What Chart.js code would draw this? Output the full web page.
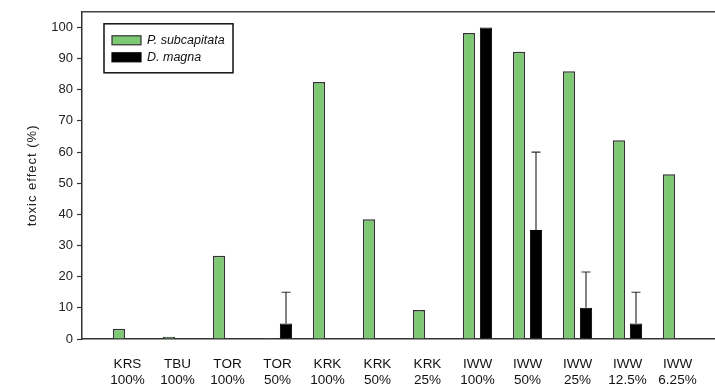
<!DOCTYPE html>
<html>
<head>
<meta charset="utf-8">
<script src="https://cdn.jsdelivr.net/npm/chart.js@4"></script>
<style>
  html, body { margin: 0; padding: 0; background: #fff; }
  #wrap { width: 715px; height: 389px; }
</style>
</head>
<body>
<div id="wrap"><canvas id="chart"></canvas></div>
<script>
const sampleNames = ['KRS', 'TBU', 'TOR', 'TOR', 'KRK', 'KRK', 'KRK', 'IWW', 'IWW', 'IWW', 'IWW', 'IWW']
const sampleConc = ['100%', '100%', '100%', '50%', '100%', '50%', '25%', '100%', '50%', '25%', '12.5%', '6.25%']
const algaeValues = [3.3, 0.7, 26.7, 0.3, 82.5, 38.4, 9.3, 98.2, 92.2, 85.9, 63.8, 52.9]
const daphniaValues = [0, 0, 0, 5, 0, 0, 0, 100, 35, 10, 5, 0]
const daphniaErr = [0, 0, 0, 10, 0, 0, 0, 0, 25, 11.5, 10, 0]
const yTicks = [0, 10, 20, 30, 40, 50, 60, 70, 80, 90, 100]

const green = '#7dc873'
const fontFamily = '"Liberation Sans", Arial, sans-serif'

// error bars (upper only) on the D. magna bars
const errorBars = {
  id: 'errorBars',
  afterDatasetsDraw(chart) {
    const ctx = chart.ctx
    const meta = chart.getDatasetMeta(1)
    const yScale = chart.scales.y
    ctx.save()
    ctx.strokeStyle = '#333'
    ctx.lineWidth = 1.2
    meta.data.forEach(function (bar, i) {
      const err = daphniaErr[i]
      if (!err) return
      const yTop = yScale.getPixelForValue(daphniaValues[i] + err)
      ctx.beginPath()
      ctx.moveTo(bar.x, bar.y)
      ctx.lineTo(bar.x, yTop)
      ctx.moveTo(bar.x - 4.5, yTop)
      ctx.lineTo(bar.x + 4.5, yTop)
      ctx.stroke()
    })
    ctx.restore()
  }
}

// spaced-out y title like the original
const spacedTitle = {
  id: 'spacedTitle',
  afterLayout(chart) {
    const y = chart.scales.y
    if (y._spaced) return
    const orig = y.drawTitle.bind(y)
    y.drawTitle = function () {
      const ctx = chart.ctx
      ctx.save()
      ctx.letterSpacing = '1px'
      orig()
      ctx.restore()
    }
    y._spaced = true
  }
}

// top frame line + legend box inside the plot
const frameAndLegend = {
  id: 'frameAndLegend',
  afterDraw(chart) {
    const ctx = chart.ctx
    const a = chart.chartArea
    ctx.save()
    ctx.strokeStyle = '#444'
    ctx.lineWidth = 1.5
    ctx.beginPath()
    ctx.moveTo(a.left, a.top)
    ctx.lineTo(a.right, a.top)
    ctx.stroke()

    const bx = a.left + 22, by = a.top + 12
    ctx.strokeStyle = '#111'
    ctx.lineWidth = 1.5
    ctx.strokeRect(bx, by, 129, 49)

    ctx.font = 'italic 12.5px ' + fontFamily
    ctx.textBaseline = 'middle'
    chart.data.datasets.forEach(function (ds, i) {
      const sy = by + 12 + i * 17
      ctx.fillStyle = ds.backgroundColor
      ctx.fillRect(bx + 8, sy, 29, 9)
      ctx.strokeStyle = ds.borderColor
      ctx.lineWidth = 1.2
      ctx.strokeRect(bx + 8, sy, 29, 9)
      ctx.fillStyle = '#111'
      ctx.fillText(ds.label, bx + 43, sy + 5)
    })
    ctx.restore()
  }
}

new Chart(document.getElementById('chart'), {
  type: 'bar',
  data: {
    datasets: [{
      label: 'P. subcapitata',
      data: algaeValues.map((v, i) => ({ x: i + 1, y: v })),
      backgroundColor: green,
      borderColor: '#333',
      borderWidth: 1.5
    }, {
      label: 'D. magna',
      data: daphniaValues.map((v, i) => ({ x: i + 1, y: v })),
      backgroundColor: '#000',
      borderColor: '#000',
      borderWidth: 1
    }]
  },
  options: {
    responsive: true,
    maintainAspectRatio: false,
    animation: false,
    categoryPercentage: 0.68,
    barPercentage: 0.72,
    layout: { padding: { top: 6, right: 0, left: 0, bottom: 0 } },
    plugins: {
      legend: { display: false },
      tooltip: { enabled: false }
    },
    scales: {
      x: {
        type: 'linear',
        min: 0.09,
        max: 12.75,
        offset: false,
        afterBuildTicks(scale) {
          scale.ticks = sampleNames.map((n, i) => ({ value: i + 1 }))
        },
        afterFit(scale) { scale.height = 50 },
        grid: { display: false, drawTicks: false },
        border: { display: true, color: '#333', width: 1.5 },
        ticks: {
          autoSkip: false,
          maxRotation: 0,
          padding: 17,
          color: '#111',
          font: { family: fontFamily, size: 13.5, lineHeight: 1.18 },
          callback: function (value, index) {
            return [sampleNames[index], sampleConc[index]]
          }
        }
      },
      y: {
        min: 0,
        max: 105,
        afterBuildTicks(scale) {
          scale.ticks = yTicks.map(v => ({ value: v }))
        },
        afterFit(scale) { scale.width = 82 },
        grid: { drawOnChartArea: false, tickLength: 5, tickColor: '#333', tickWidth: 1.2 },
        border: { display: true, color: '#333', width: 1.5 },
        ticks: {
          padding: 4,
          color: '#222',
          font: { family: fontFamily, size: 13 }
        },
        title: {
          display: true,
          text: 'toxic effect (%)',
          color: '#222',
          padding: { top: 25, bottom: 0 },
          font: { family: fontFamily, size: 13 }
        }
      }
    }
  },
  plugins: [errorBars, spacedTitle, frameAndLegend]
})
</script>
</body>
</html>
